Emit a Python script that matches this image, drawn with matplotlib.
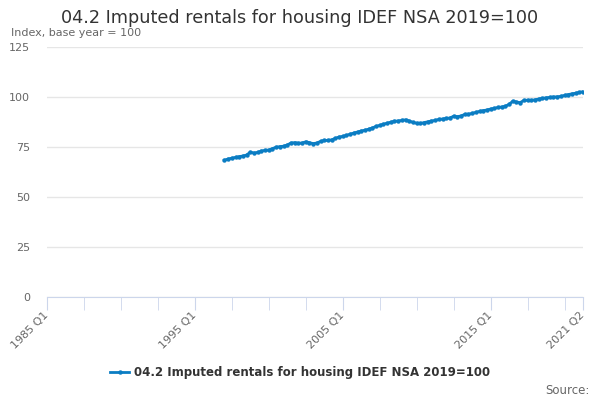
import matplotlib
matplotlib.use("Agg")
import matplotlib.pyplot as plt

# quarters 1985 Q1 .. 2021 Q2
years = list(range(1985, 2022))
quarters = [f"{y} Q{q}" for y in years for q in range(1, 5)][:146]

start_label = "1997 Q1"
values = [
    68.4, 69.0, 69.4, 69.8,
    70.2, 70.5, 71.0, 72.4,
    72.0, 72.3, 73.0, 73.3,
    73.5, 74.2, 74.9, 75.2,
    75.4, 76.0, 77.0, 77.2,
    76.9, 77.0, 77.6, 77.2,
    76.7, 77.0, 77.8, 78.3,
    78.3, 78.6, 79.3, 80.0,
    80.3, 80.8, 81.4, 82.0,
    82.5, 83.0, 83.4, 83.9,
    84.5, 85.3, 85.8, 86.4,
    86.9, 87.4, 87.9, 88.0,
    88.3, 88.6, 88.0, 87.3,
    86.9, 86.8, 87.2, 87.6,
    88.0, 88.3, 88.8, 89.0,
    89.3, 89.5, 90.4, 90.2,
    90.5, 91.3, 91.4, 91.8,
    92.3, 92.8, 93.2, 93.5,
    94.0, 94.3, 94.8, 95.0,
    95.4, 96.3, 97.9, 97.5,
    97.2, 98.3, 98.4, 98.3,
    98.6, 99.0, 99.3, 99.6,
    99.8, 100.0, 100.1, 100.3,
    100.8, 101.2, 101.6, 101.9,
    102.3, 102.7,
]
series_name = "04.2 Imputed rentals for housing IDEF NSA 2019=100"
label_ticks = ["1985 Q1", "1995 Q1", "2005 Q1", "2015 Q1", "2021 Q2"]
y_ticks = [0, 25, 50, 75, 100, 125]

plt.rcParams["font.family"] = ["DejaVu Sans"]

fig = plt.figure(figsize=(6, 4), dpi=100)
ax = fig.add_axes([0.0783, 0.2575, 0.8934, 0.625])

i0 = quarters.index(start_label)
xs = list(range(i0, i0 + len(values)))
line, = ax.plot(xs, values, color="#0b7dc3", lw=2, marker="o", ms=3.2,
                markeredgewidth=0, label=series_name)

ax.set_xlim(0, len(quarters) - 1)
ax.set_ylim(0, 125)
ax.set_yticks(y_ticks)
ax.set_yticklabels([str(v) for v in y_ticks], color="#666666", fontsize=8)
ax.yaxis.grid(True, color="#e6e6e6", lw=1)
ax.set_axisbelow(True)
ax.tick_params(axis="y", length=0, pad=12)

for s in ["top", "right", "left"]:
    ax.spines[s].set_visible(False)
ax.spines["bottom"].set_color("#ccd6eb")

minor = list(range(0, len(quarters), 10)) + [len(quarters) - 1]
ax.set_xticks(minor, minor=True)
ax.tick_params(axis="x", which="minor", length=9, color="#ccd6eb")
major = [quarters.index(q) for q in label_ticks]
ax.set_xticks(major)
ax.set_xticklabels(label_ticks, rotation=45, ha="right", va="center",
                   rotation_mode="anchor", color="#666666", fontsize=8)
ax.tick_params(axis="x", which="major", length=9, color="#ccd6eb", pad=3)

fig.text(0.5, 0.955, series_name, ha="center", va="center", fontsize=12.7,
         color="#333333")
fig.text(0.018, 0.918, "Index, base year = 100", ha="left", va="center",
         fontsize=8, color="#666666")
fig.legend(handles=[line], loc="center", bbox_to_anchor=(0.5, 0.068),
           frameon=False, prop={"weight": "bold", "size": 8.5},
           labelcolor="#333333", handlelength=1.6, handletextpad=0.4)
fig.text(0.982, 0.025, "Source:", ha="right", va="center", fontsize=8.5,
         color="#666666")

fig.savefig("out.png", dpi=100)
